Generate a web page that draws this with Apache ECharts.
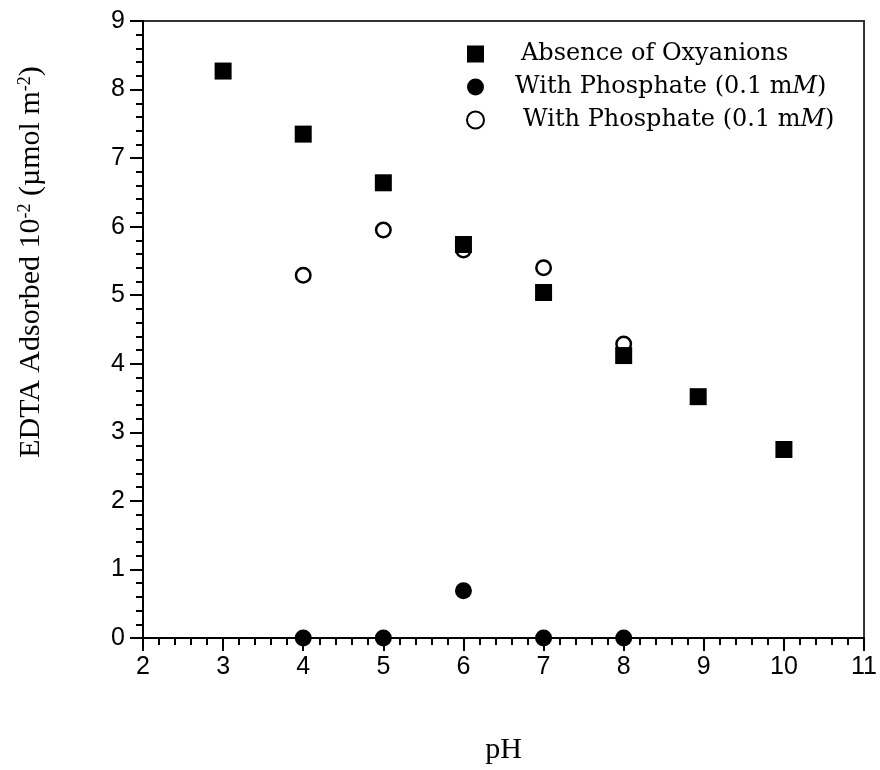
<!DOCTYPE html>
<html>
<head>
<meta charset="utf-8">
<script src="https://cdn.jsdelivr.net/npm/echarts@6/dist/echarts.min.js"></script>
<style>html,body{margin:0;padding:0;background:#fff}#c{width:880px;height:770px}</style>
</head>
<body>
<div id="c"></div>
<script>
// pH values and EDTA adsorbed (10^-2 µmol m^-2)
const absenceX = [3, 4, 5, 6, 7, 8, 8.93, 10];
const absenceY = [8.27, 7.35, 6.64, 5.74, 5.04, 4.12, 3.52, 2.75];
const filledX = [4, 5, 6, 7, 8];
const filledY = [0, 0, 0.69, 0, 0];
const openX = [4, 5, 6, 7, 8];
const openY = [5.29, 5.95, 5.66, 5.40, 4.29];
const seriesNames = ['absence', 'phosFilled', 'phosOpen'];
const legendLabels = {
  absence: '{g| }{n|Absence of Oxyanions}',
  phosFilled: '{h| }{n|With Phosphate (0.1 m}{i|M}{n|)}',
  phosOpen: '{k| }{n|With Phosphate (0.1 m}{i|M}{n|)}'
};
const xMin = 2, xMax = 11, yMin = 0, yMax = 9;

const pairs = (xs, ys) => xs.map((x, i) => [x, ys[i]]);
const chart = echarts.init(document.getElementById('c'));
const axisCommon = {
  axisLine: { show: true, onZero: false, lineStyle: { color: '#000', width: 2 } },
  axisTick: { show: true, inside: false, length: 13, lineStyle: { color: '#000', width: 2 } },
  minorTick: { show: true, splitNumber: 5, length: 7, lineStyle: { color: '#000', width: 2 } },
  splitLine: { show: false },
  axisLabel: { color: '#000', fontFamily: 'Liberation Sans', fontSize: 25 }
};
chart.setOption({
  animation: false,
  grid: { left: 143, right: 14, top: 21, bottom: 130, show: true, borderColor: '#333', borderWidth: 2 },
  xAxis: Object.assign({}, axisCommon, {
    type: 'value', min: xMin, max: xMax, interval: 1,
    axisLabel: Object.assign({}, axisCommon.axisLabel, { margin: 17 }),
    name: 'pH', nameLocation: 'middle', nameGap: 97,
    nameTextStyle: { color: '#000', fontFamily: 'Liberation Serif', fontSize: 30 }
  }),
  yAxis: Object.assign({}, axisCommon, {
    type: 'value', min: yMin, max: yMax, interval: 1,
    axisLabel: Object.assign({}, axisCommon.axisLabel, { margin: 18 })
  }),
  legend: {
    data: seriesNames,
    orient: 'vertical', left: 466, top: 42, padding: 0,
    itemWidth: 17, itemHeight: 17, itemGap: 9,
    selectedMode: false,
    formatter: name => legendLabels[name],
    textStyle: {
      color: '#000', lineHeight: 24,
      rich: {
        n: { fontFamily: 'DejaVu Serif', fontSize: 24, lineHeight: 24, color: '#000' },
        i: { fontFamily: 'DejaVu Serif', fontSize: 24, lineHeight: 24, fontStyle: 'italic', color: '#000' },
        g: { width: 32, fontSize: 24 },
        h: { width: 26, fontSize: 24 },
        k: { width: 34, fontSize: 24 }
      }
    }
  },
  graphic: [{
    type: 'text', x: 31, y: 262, rotation: Math.PI / 2,
    style: {
      text: '{n|EDTA Adsorbed 10}{s|-2}{n| (µmol m}{s|-2}{n|)}',
      align: 'center', verticalAlign: 'middle', fill: '#000',
      rich: {
        n: { fontFamily: 'Liberation Serif', fontSize: 30, lineHeight: 30, fill: '#000' },
        s: { fontFamily: 'Liberation Serif', fontSize: 18, lineHeight: 18, verticalAlign: 'top', fill: '#000' }
      }
    }
  }],
  series: [
    { name: 'absence', type: 'scatter', symbol: 'rect', symbolSize: 17, z: 4, clip: false,
      itemStyle: { color: '#000', opacity: 1 }, data: pairs(absenceX, absenceY) },
    { name: 'phosFilled', type: 'scatter', symbol: 'circle', symbolSize: 17, z: 4, clip: false,
      itemStyle: { color: '#000', opacity: 1 }, data: pairs(filledX, filledY) },
    { name: 'phosOpen', type: 'scatter', symbol: 'circle', symbolSize: 14.5, z: 3, clip: false,
      itemStyle: { color: '#fff', borderColor: '#000', borderWidth: 2.5, opacity: 1 }, data: pairs(openX, openY) }
  ]
});
</script>
</body>
</html>
